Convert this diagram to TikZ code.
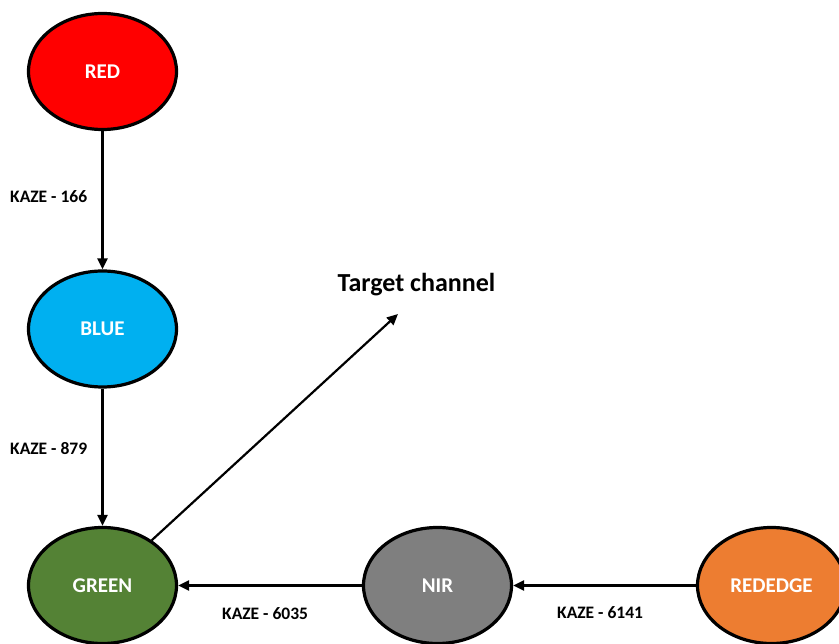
\documentclass[tikz,border=0pt]{standalone}
\usepackage{fontspec}
\setmainfont{Carlito}
\usetikzlibrary{shapes.geometric,arrows.meta}
\definecolor{cred}{HTML}{FF0000}
\definecolor{cblue}{HTML}{00B0F0}
\definecolor{cgreen}{HTML}{548235}
\definecolor{cnir}{HTML}{7F7F7F}
\definecolor{cedge}{HTML}{ED7D31}
\tikzset{
  chan/.style={ellipse, draw=black, line width=3.2pt, minimum width=148pt, minimum height=116pt, inner sep=0pt,
    text=white, font=\fontsize{21}{25}\selectfont\bfseries},
  conn/.style={line width=2.2pt, -{Triangle[length=11pt,width=10pt]}},
  lab/.style={font=\fontsize{17.5}{21}\selectfont\bfseries, text=black, inner sep=0pt},
}
\begin{document}
\begin{tikzpicture}[x=1pt,y=-1pt]
\clip (0,0) rectangle (839,644);
\fill[white] (0,0) rectangle (839,644);
\node[chan, fill=cred] (red) at (102.5,71.5) {RED};
\node[chan, fill=cblue] (blue) at (102.5,329) {BLUE};
\node[chan, fill=cgreen] (green) at (102.5,585.5) {GREEN};
\node[chan, fill=cnir] (nir) at (437.5,585.5) {NIR};
\node[chan, fill=cedge] (rededge) at (771.5,585.5) {REDEDGE};
\coordinate (tgt) at (398,314);
\node[font=\fontsize{26}{30}\selectfont\bfseries, inner sep=0pt] (tlabel) at (416.5,285) {Target channel};
\draw[conn] (red) -- (blue);
\draw[conn] (blue) -- (green);
\draw[conn] (nir) -- (green);
\draw[conn] (rededge) -- (nir);
\draw[conn] (green) -- (tgt);
\node[lab, anchor=west] (l1) at (10,197) {KAZE - 166};
\node[lab, anchor=west] (l2) at (10,449) {KAZE - 879};
\node[lab, anchor=west] (l3) at (222,614) {KAZE - 6035};
\node[lab, anchor=west] (l4) at (557,613) {KAZE - 6141};
\end{tikzpicture}
\end{document}
